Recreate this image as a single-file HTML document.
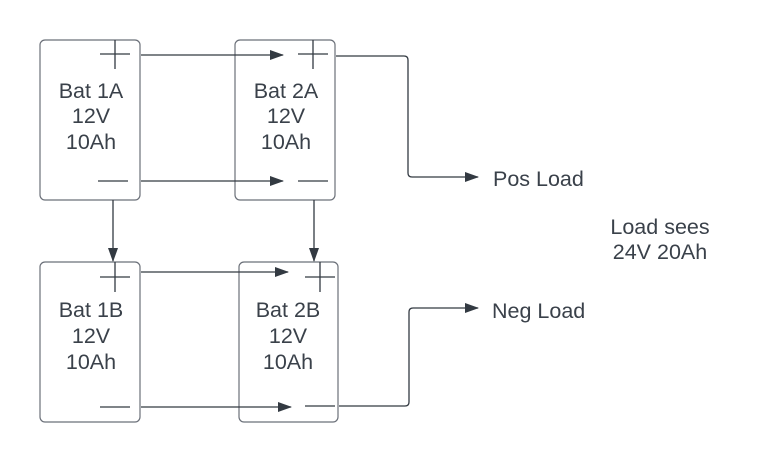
<!DOCTYPE html>
<html><head><style>body{margin:0;background:#fff}</style></head><body>
<svg width="760" height="462" xmlns="http://www.w3.org/2000/svg" font-family="Liberation Sans, sans-serif" font-size="21.5" fill="#3a414a">
<defs><marker id="a" markerWidth="14" markerHeight="10" refX="13" refY="5" orient="auto" markerUnits="userSpaceOnUse"><path d="M0,0L14,5L0,10z" fill="#333a42"/></marker></defs>
<g fill="none" stroke="#6b7079" stroke-width="1.2">
<rect x="40" y="40" width="100" height="160" rx="5"/>
<rect x="235" y="40" width="100" height="160" rx="5"/>
<rect x="40" y="262" width="100" height="160" rx="5"/>
<rect x="239" y="262" width="99" height="160" rx="5"/>
</g>
<g stroke="#333a42" stroke-width="1.3" fill="none">
<path d="M100 54H130M115 40V69"/>
<path d="M298 54H328M313 40V69"/>
<path d="M98 181H128M298 181H328"/>
<path d="M100 277H130M115 262V292"/>
<path d="M305 277H335M320 262V292"/>
<path d="M100 407H130M305 406H335"/>
<path d="M141 55H283" marker-end="url(#a)"/>
<path d="M141 181H283" marker-end="url(#a)"/>
<path d="M113 200V261" marker-end="url(#a)"/>
<path d="M314 200V261" marker-end="url(#a)"/>
<path d="M141 272H288" marker-end="url(#a)"/>
<path d="M141 407H291" marker-end="url(#a)"/>
<path d="M336 56H404Q408 56 408 60V173Q408 177 412 177H478" marker-end="url(#a)"/>
<path d="M339 406H405Q409 406 409 402V312Q409 308 413 308H478" marker-end="url(#a)"/>
</g>
<g text-anchor="middle">
<text x="91" y="98">Bat 1A</text><text x="91" y="123">12V</text><text x="91" y="149">10Ah</text>
<text x="286" y="98">Bat 2A</text><text x="286" y="123">12V</text><text x="286" y="149">10Ah</text>
<text x="91" y="317">Bat 1B</text><text x="91" y="343">12V</text><text x="91" y="369">10Ah</text>
<text x="288" y="317">Bat 2B</text><text x="288" y="343">12V</text><text x="288" y="369">10Ah</text>
<text x="660" y="234">Load sees</text><text x="660" y="259">24V 20Ah</text>
</g>
<text x="493" y="186">Pos Load</text>
<text x="492" y="318">Neg Load</text>
</svg>
</body></html>
